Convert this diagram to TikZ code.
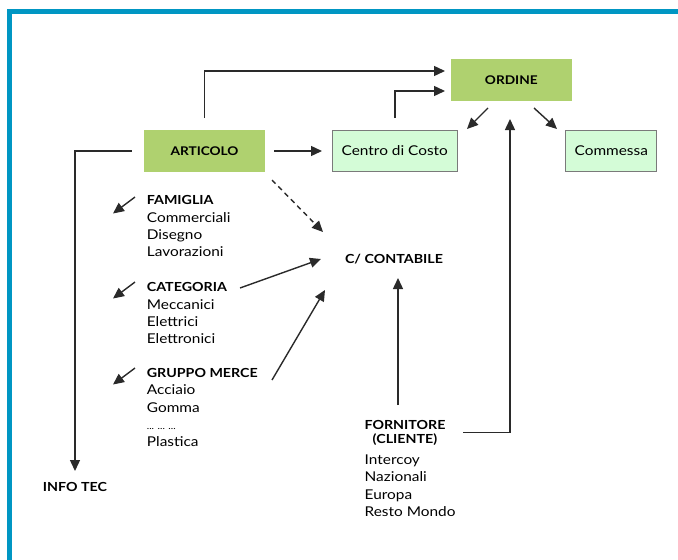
\documentclass[tikz,border=0pt]{standalone}
\usepackage{fontspec}
\setmainfont[FakeStretch=1.14]{Lato}
\usetikzlibrary{arrows.meta}
\definecolor{bordblue}{HTML}{0096C3}
\definecolor{dgreen}{HTML}{AFD16F}
\definecolor{lgreen}{HTML}{D4FCD7}
\definecolor{ln}{HTML}{2A2A2A}
\definecolor{boxline}{HTML}{7A7A7A}
\begin{document}
\begin{tikzpicture}[x=1pt,y=-1pt,
  darkbox/.style={fill=dgreen, minimum width=121pt, minimum height=42pt, inner sep=0pt,
    font=\bfseries\fontsize{12}{14}\selectfont},
  lightbox/.style={fill=lgreen, draw=boxline, line width=1pt, minimum height=41.7pt, inner sep=0pt,
    font=\fontsize{13.5}{16}\selectfont},
  head/.style={anchor=base west, inner sep=0pt, font=\bfseries\fontsize{12.5}{15}\selectfont},
  headc/.style={anchor=base, inner sep=0pt, font=\bfseries\fontsize{12.5}{15}\selectfont},
  item/.style={anchor=base west, inner sep=0pt, font=\fontsize{13.5}{16}\selectfont},
  conn/.style={draw=ln, line width=1.4pt, -{Triangle[length=11pt,width=10pt]}},
  dconn/.style={conn, dashed, dash pattern=on 5pt off 4pt}
]
\useasboundingbox (0,0) rectangle (678,560);
% frame
\draw[bordblue, line width=4.5pt] (9.3,560) -- (9.3,11.5) -- (678,11.5);

% boxes
\node[darkbox] (ord) at (511.3,80) {ORDINE};
\node[darkbox] (art) at (204.5,151) {ARTICOLO};
\node[lightbox, minimum width=125pt] (cdc) at (394.8,151) {Centro di Costo};
\node[lightbox, minimum width=90.7pt] (com) at (611.3,151) {Commessa};

% headings
\node[head] (fam) at (146.7,204.8) {FAMIGLIA};
\node[head] (cat) at (146.7,291.7) {CATEGORIA};
\node[head] (gru) at (146.7,377.6) {GRUPPO MERCE};
\node[headc] (cont) at (394,263.7) {C/ CONTABILE};
\node[headc] (forn) at (405,429) {FORNITORE};
\node[headc] (cli) at (405,443.3) {(CLIENTE)};
\node[headc] (info) at (75,491.7) {INFO TEC};

% lists
\foreach \t [count=\i] in {Commerciali,Disegno,Lavorazioni}
  \node[item] (fam\i) at (146.7,{204.8+17.3*\i}) {\t};
\foreach \t [count=\i] in {Meccanici,Elettrici,Elettronici}
  \node[item] (cat\i) at (146.7,{291.7+17.3*\i}) {\t};
\node[item] (gru1) at (146.7,394.9) {Acciaio};
\node[item] (gru2) at (146.7,412.2) {Gomma};
\node[item, font=\fontsize{9}{10}\selectfont] (gru3) at (146.7,429.5) {... ... ...};
\node[item] (gru4) at (146.7,446.8) {Plastica};
\foreach \t [count=\i] in {Intercoy,Nazionali,Europa,Resto Mondo}
  \node[item] (forn\i) at (364.5,{446.5+17.5*\i}) {\t};

% connector end points
\coordinate (a1) at (204.7,118);
\coordinate (o1) at (445,71);
\coordinate (c1) at (395,118);
\coordinate (o2) at (445,91);
\coordinate (o3) at (488,108);
\coordinate (c2) at (467,129);
\coordinate (o4) at (534,108);
\coordinate (m1) at (557,129);
\coordinate (f1) at (463,432.5);
\coordinate (o5) at (510,119);
\coordinate (a2) at (274,151);
\coordinate (c3) at (322,151);
\coordinate (a3) at (131.7,151);
\coordinate (i1) at (75,471);
\coordinate (a4) at (272,180);
\coordinate (k1) at (323,232);
\coordinate (t1) at (240,288);
\coordinate (k2) at (321,259);
\coordinate (g1) at (272,380);
\coordinate (k3) at (325,290);
\coordinate (f2) at (398,405);
\coordinate (k4) at (398,278);
\coordinate (fa1) at (135,197);
\coordinate (fa2) at (113,213.5);
\coordinate (ca1) at (135,282);
\coordinate (ca2) at (113,298.5);
\coordinate (ga1) at (135,368);
\coordinate (ga2) at (113,384.5);

% connectors
\draw[conn] (a1) |- (o1);
\draw[conn] (c1) |- (o2);
\draw[conn] (o3) -- (c2);
\draw[conn] (o4) -- (m1);
\draw[conn] (f1) -| (o5);
\draw[conn] (a2) -- (c3);
\draw[conn] (a3) -| (i1);
\draw[dconn] (a4) -- (k1);
\draw[conn] (t1) -- (k2);
\draw[conn] (g1) -- (k3);
\draw[conn] (f2) -- (k4);
\draw[conn] (fa1) -- (fa2);
\draw[conn] (ca1) -- (ca2);
\draw[conn] (ga1) -- (ga2);
\end{tikzpicture}
\end{document}
